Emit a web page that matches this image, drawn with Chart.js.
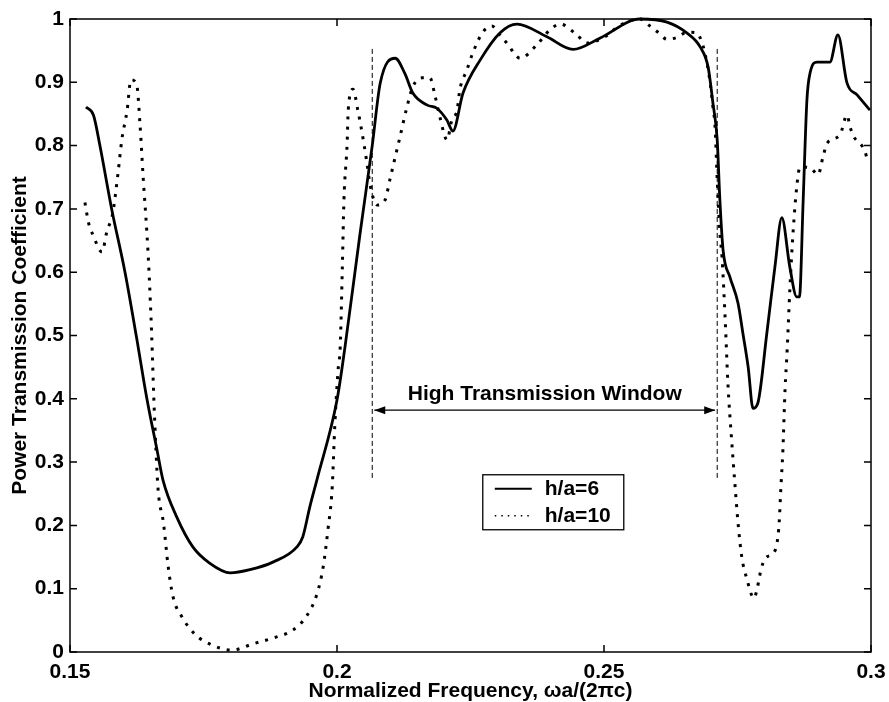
<!DOCTYPE html>
<html>
<head>
<meta charset="utf-8">
<script src="https://cdn.jsdelivr.net/npm/chart.js@4/dist/chart.umd.min.js"></script>
<style>
  html, body { margin: 0; padding: 0; background: #fff; }
  #wrap { width: 889px; height: 702px; position: relative; }
</style>
</head>
<body>
<div id="wrap"><canvas id="grafica" width="889" height="702"></canvas></div>
<script>
// Curva h/a=6 (linea continua)
const freqH6 = [0.153, 0.1544, 0.1556, 0.1578, 0.1603, 0.1624, 0.1644, 0.1663, 0.1674,
  0.170, 0.173, 0.1762, 0.180, 0.1837, 0.188, 0.1925, 0.1936, 0.1949, 0.1963,
  0.200, 0.2015, 0.2043, 0.2066,
  0.2081, 0.2109, 0.2127, 0.2142, 0.2169, 0.2187, 0.2206, 0.2217, 0.2236, 0.2268,
  0.2305, 0.2337, 0.2393, 0.2442, 0.2493, 0.2567, 0.2618, 0.2655, 0.268, 0.2695,
  0.2704, 0.2712, 0.2717, 0.2723, 0.2736, 0.2751, 0.276, 0.277, 0.2779, 0.2788,
  0.2805, 0.282, 0.2833, 0.2848, 0.2861, 0.2866, 0.2873, 0.288, 0.2886, 0.2899,
  0.2923, 0.2938, 0.2955, 0.2974, 0.2998];
const transH6 = [0.861, 0.848, 0.80, 0.70, 0.60, 0.50, 0.40, 0.319, 0.272,
  0.213, 0.166, 0.14, 0.125, 0.13, 0.142, 0.166, 0.182, 0.229, 0.274,
  0.398, 0.482, 0.66, 0.80,
  0.899, 0.938, 0.914, 0.883, 0.864, 0.859, 0.84, 0.823, 0.883, 0.935,
  0.978, 0.992, 0.972, 0.952, 0.97, 1.0, 0.995, 0.978, 0.956, 0.924,
  0.867, 0.809, 0.714, 0.635, 0.592, 0.551, 0.504, 0.45, 0.385, 0.393,
  0.504, 0.608, 0.686, 0.608, 0.561, 0.561, 0.714, 0.872, 0.915, 0.932,
  0.932, 0.975, 0.899, 0.88, 0.856];

// Curva h/a=10 (linea punteada)
const freqH10 = [0.1528, 0.1535, 0.1543, 0.156, 0.1569, 0.158, 0.159, 0.1597, 0.1607, 0.1614,
  0.1625, 0.1631, 0.1637, 0.1644, 0.1648, 0.1653, 0.1657, 0.1661, 0.1665, 0.1675,
  0.1684, 0.1693, 0.171, 0.1734, 0.1766, 0.1803, 0.1843, 0.188, 0.1918, 0.1944,
  0.1963, 0.1974, 0.1983, 0.1991, 0.1996, 0.2002, 0.2006, 0.201, 0.2013, 0.2019,
  0.2021, 0.203, 0.2039, 0.2047, 0.2056, 0.2062, 0.2075, 0.209, 0.2099, 0.2109,
  0.2118, 0.2131, 0.2142, 0.2159, 0.2174, 0.2184, 0.2193, 0.2206, 0.2215, 0.2225,
  0.223, 0.2243, 0.2255, 0.2273, 0.229, 0.2305, 0.2318, 0.2343, 0.2374, 0.2399,
  0.2418, 0.2449, 0.2468, 0.2502, 0.253, 0.2567, 0.2586, 0.2601, 0.2618, 0.2637,
  0.2655, 0.2674, 0.2683, 0.2689, 0.2698, 0.2704, 0.2708, 0.2712, 0.2717, 0.2721,
  0.2727, 0.2732, 0.2739, 0.2745, 0.2751, 0.2758, 0.2767, 0.2781, 0.2787, 0.2794,
  0.2802, 0.2817, 0.2824, 0.2828, 0.2831, 0.2835, 0.2839, 0.2843, 0.2848, 0.2854,
  0.2861, 0.2867, 0.2886, 0.2901, 0.291, 0.2918, 0.2942, 0.2955, 0.2961, 0.2966,
  0.2989, 0.2994];
const transH10 = [0.71, 0.677, 0.659, 0.632, 0.664, 0.693, 0.757, 0.809, 0.856, 0.904,
  0.896, 0.835, 0.75, 0.662, 0.6, 0.5, 0.4, 0.319, 0.256, 0.204,
  0.134, 0.087, 0.055, 0.028, 0.011, 0.003, 0.013, 0.022, 0.035, 0.058,
  0.093, 0.134, 0.193, 0.26, 0.36, 0.445, 0.482, 0.608, 0.714, 0.804,
  0.856, 0.889, 0.856, 0.82, 0.773, 0.738, 0.706, 0.714, 0.746, 0.782,
  0.814, 0.861, 0.893, 0.907, 0.907, 0.877, 0.844, 0.809, 0.84, 0.856,
  0.888, 0.919, 0.948, 0.979, 0.989, 0.975, 0.962, 0.938, 0.959, 0.983,
  0.992, 0.975, 0.962, 0.972, 0.99, 1.0, 0.989, 0.979, 0.968, 0.971,
  0.979, 0.978, 0.964, 0.946, 0.904, 0.861, 0.829, 0.746, 0.662, 0.624,
  0.524, 0.425, 0.335, 0.267, 0.204, 0.15, 0.117, 0.085, 0.101, 0.13,
  0.148, 0.156, 0.172, 0.204, 0.256, 0.319, 0.414, 0.477, 0.572, 0.662,
  0.735, 0.766, 0.765, 0.754, 0.782, 0.804, 0.817, 0.848, 0.829, 0.817,
  0.79, 0.774];

// Ventana de alta transmision: bordes, alto de las lineas y altura de la flecha
const windowEdges = [0.2066, 0.2712];
const windowSpan = [0.275, 0.953];
const arrowLevel = [0.382];

// Ejes
const xTicks = [0.15, 0.2, 0.25, 0.3];
const xTickLabels = ['0.15', '0.2', '0.25', '0.3'];
const yTicks = [0, 0.1, 0.2, 0.3, 0.4, 0.5, 0.6, 0.7, 0.8, 0.9, 1];
const yTickLabels = ['0', '0.1', '0.2', '0.3', '0.4', '0.5', '0.6', '0.7', '0.8', '0.9', '1'];
const seriesNames = ['h/a=6', 'h/a=10'];

const FONT = "'Liberation Sans', Arial, Helvetica, sans-serif";
Chart.defaults.font.family = FONT;
Chart.defaults.color = '#000';

const toPoints = (xs, ys) => xs.map((x, i) => ({ x: x, y: ys[i] }));

// Marco, ticks hacia adentro, flechas, texto y leyenda
const decoraciones = {
  id: 'decoraciones',
  afterDatasetsDraw(chart) {
    const { ctx, chartArea: a, scales } = chart;
    const xs = scales.x, ys = scales.y;
    ctx.save();
    ctx.strokeStyle = '#000';
    ctx.lineWidth = 1.5;
    ctx.strokeRect(a.left, a.top, a.right - a.left, a.bottom - a.top);
    const tl = 7;
    ctx.beginPath();
    xTicks.forEach(v => {
      const px = xs.getPixelForValue(v);
      ctx.moveTo(px, a.bottom); ctx.lineTo(px, a.bottom - tl);
      ctx.moveTo(px, a.top); ctx.lineTo(px, a.top + tl);
    });
    yTicks.forEach(v => {
      const py = ys.getPixelForValue(v);
      ctx.moveTo(a.left, py); ctx.lineTo(a.left + tl, py);
      ctx.moveTo(a.right, py); ctx.lineTo(a.right - tl, py);
    });
    ctx.stroke();

    // puntas de la flecha
    const ay = ys.getPixelForValue(arrowLevel[0]);
    const x1 = xs.getPixelForValue(windowEdges[0]) + 2;
    const x2 = xs.getPixelForValue(windowEdges[1]) - 2;
    ctx.fillStyle = '#000';
    ctx.beginPath();
    ctx.moveTo(x1, ay); ctx.lineTo(x1 + 11, ay - 4); ctx.lineTo(x1 + 11, ay + 4); ctx.closePath();
    ctx.moveTo(x2, ay); ctx.lineTo(x2 - 11, ay - 4); ctx.lineTo(x2 - 11, ay + 4); ctx.closePath();
    ctx.fill();

    // texto de la ventana
    ctx.font = 'bold 21px ' + FONT;
    ctx.textAlign = 'center';
    ctx.textBaseline = 'alphabetic';
    ctx.fillText('High Transmission Window', (x1 + x2) / 2, ay - 10);

    // leyenda
    const lx = xs.getPixelForValue(0.2273), ly = ys.getPixelForValue(0.28);
    const lw = 141, lh = 55;
    ctx.fillStyle = '#fff';
    ctx.fillRect(lx, ly, lw, lh);
    ctx.lineWidth = 1.3;
    ctx.strokeRect(lx, ly, lw, lh);
    const filas = [ly + 14, ly + 41];
    ctx.lineWidth = 2;
    ctx.beginPath(); ctx.setLineDash([]);
    ctx.moveTo(lx + 12, filas[0]); ctx.lineTo(lx + 49, filas[0]); ctx.stroke();
    ctx.lineWidth = 1.5;
    ctx.beginPath(); ctx.setLineDash([1.5, 5]);
    ctx.moveTo(lx + 12, filas[1]); ctx.lineTo(lx + 49, filas[1]); ctx.stroke();
    ctx.setLineDash([]);
    ctx.fillStyle = '#000';
    ctx.textAlign = 'left';
    ctx.textBaseline = 'middle';
    ctx.fillText(seriesNames[0], lx + 62, filas[0]);
    ctx.fillText(seriesNames[1], lx + 62, filas[1]);
    ctx.restore();
  }
};

const ventanaDs = windowEdges.map(e => ({
  data: toPoints([e, e], windowSpan),
  borderColor: '#000',
  borderWidth: 1,
  borderDash: [5, 3],
  pointRadius: 0,
  tension: 0
}));

new Chart(document.getElementById('grafica'), {
  type: 'line',
  data: {
    datasets: [
      {
        label: seriesNames[0],
        data: toPoints(freqH6, transH6),
        borderColor: '#000',
        borderWidth: 2.8,
        pointRadius: 0,
        cubicInterpolationMode: 'monotone',
        clip: 4
      },
      {
        label: seriesNames[1],
        data: toPoints(freqH10, transH10),
        borderColor: '#000',
        borderWidth: 3,
        borderDash: [3, 7],
        pointRadius: 0,
        cubicInterpolationMode: 'monotone',
        clip: 4
      },
      ...ventanaDs,
      {
        data: toPoints([windowEdges[0] + 0.0004, windowEdges[1] - 0.0004], [arrowLevel[0], arrowLevel[0]]),
        borderColor: '#000',
        borderWidth: 1.2,
        pointRadius: 0,
        tension: 0
      }
    ]
  },
  options: {
    responsive: false,
    animation: false,
    devicePixelRatio: 1,
    layout: { padding: { top: 19, right: 18, left: 0, bottom: 0 } },
    plugins: { legend: { display: false }, tooltip: { enabled: false } },
    scales: {
      x: {
        type: 'linear',
        min: 0.15,
        max: 0.3,
        afterBuildTicks: s => { s.ticks = xTicks.map(v => ({ value: v })); },
        afterFit: s => { s.height = 50; s.paddingLeft = 0; s.paddingRight = 0; },
        grid: { display: false, drawTicks: false },
        border: { display: false },
        ticks: {
          padding: 8,
          font: { size: 21, weight: 'bold' },
          maxRotation: 0,
          callback: v => xTickLabels[xTicks.indexOf(v)]
        },
        title: {
          display: true,
          text: 'Normalized Frequency, \u03c9a/(2\u03c0c)',
          font: { size: 21, weight: 'bold' },
          padding: { top: 0, bottom: -2 }
        }
      },
      y: {
        type: 'linear',
        min: 0,
        max: 1,
        afterBuildTicks: s => { s.ticks = yTicks.map(v => ({ value: v })); },
        afterFit: s => { s.width = 70; s.paddingTop = 0; s.paddingBottom = 0; },
        grid: { display: false, drawTicks: false },
        border: { display: false },
        ticks: {
          padding: 6,
          font: { size: 21, weight: 'bold' },
          callback: v => yTickLabels[yTicks.indexOf(v)]
        },
        title: {
          display: true,
          text: 'Power Transmission Coefficient',
          font: { size: 21, weight: 'bold' },
          padding: { top: 8, bottom: 0 }
        }
      }
    }
  },
  plugins: [decoraciones]
});
</script>
</body>
</html>
